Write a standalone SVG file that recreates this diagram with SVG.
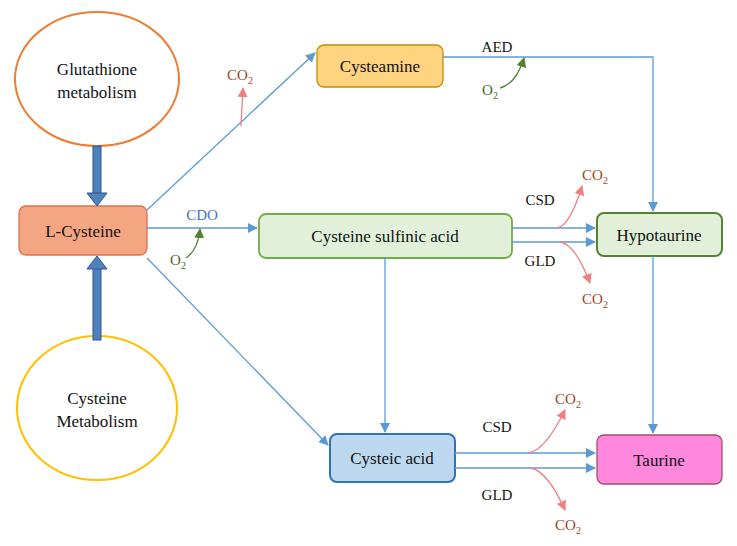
<svg xmlns="http://www.w3.org/2000/svg" width="737" height="546" viewBox="0 0 737 546" font-family="'Liberation Serif','Times New Roman','DejaVu Serif',serif">
<style>
text{font-family:'Liberation Serif','Times New Roman','DejaVu Serif',serif;font-size:17px;fill:#111;text-anchor:middle}
.c{stroke:#5B9BD5;stroke-width:1.3;fill:none;marker-end:url(#a)}
.r{stroke:#F08080;stroke-width:1.3;fill:none;marker-end:url(#ar)}
.g{stroke:#548235;stroke-width:1.3;fill:none;marker-end:url(#ag)}
.co{fill:#A0441E;font-size:15px}
.o2{fill:#3B6B22;font-size:15px}
.lb{font-size:15px}
</style>
<defs>
<marker id="a" markerWidth="10" markerHeight="10" refX="9" refY="5" orient="auto" markerUnits="userSpaceOnUse"><path d="M0,0L10,5L0,10z" fill="#5B9BD5"/></marker>
<marker id="ar" markerWidth="10" markerHeight="10" refX="9" refY="5" orient="auto" markerUnits="userSpaceOnUse"><path d="M0,0L10,5L0,10z" fill="#F08080"/></marker>
<marker id="ag" markerWidth="10" markerHeight="10" refX="9" refY="5" orient="auto" markerUnits="userSpaceOnUse"><path d="M0,0L10,5L0,10z" fill="#548235"/></marker>
</defs>
<rect width="737" height="546" fill="#fff"/>
<g id="glutathione"><ellipse cx="97" cy="79" rx="82" ry="67" fill="#fff" stroke="#ED7D31" stroke-width="2"/><text x="97" y="75">Glutathione</text><text x="97" y="98">metabolism</text></g>
<g id="cysmet"><ellipse cx="97" cy="408" rx="80" ry="72" fill="#fff" stroke="#FFC000" stroke-width="2"/><text x="97" y="404">Cysteine</text><text x="97" y="427">Metabolism</text></g>
<g id="lcys"><rect x="19" y="206" width="128" height="49" rx="7" fill="#F4A582" stroke="#E07050" stroke-width="1.3"/><text x="83" y="237">L-Cysteine</text></g>
<g id="cysteamine"><rect x="317" y="45" width="126" height="42" rx="7" fill="#FFD37F" stroke="#BF9000" stroke-width="1.3"/><text x="380" y="72">Cysteamine</text></g>
<g id="csa"><rect x="259" y="214" width="253" height="44" rx="7" fill="#E2F0D9" stroke="#70AD47" stroke-width="1.8"/><text x="385" y="242">Cysteine sulfinic acid</text></g>
<g id="hypotaurine"><rect x="597" y="213" width="125" height="43" rx="7" fill="#E2F0D9" stroke="#548235" stroke-width="2"/><text x="659" y="241">Hypotaurine</text></g>
<g id="cysteic"><rect x="330" y="434" width="125" height="48" rx="7" fill="#BDD7EE" stroke="#2E75B6" stroke-width="2"/><text x="392" y="464">Cysteic acid</text></g>
<g id="taurine"><rect x="597" y="435" width="125" height="49" rx="7" fill="#FF88DD" stroke="#A0506A" stroke-width="1.3"/><text x="659" y="466">Taurine</text></g>
<g id="connectors">
<rect x="93" y="146" width="8" height="48" fill="#4F81BD" stroke="#2F5597"/><path d="M87,193L107,193L97,206z" fill="#4F81BD" stroke="#2F5597"/>
<rect x="93" y="268" width="8" height="72" fill="#4F81BD" stroke="#2F5597"/><path d="M87,269L107,269L97,256z" fill="#4F81BD" stroke="#2F5597"/>
<path class="c" d="M147,210L315,53"/>
<path class="r" d="M241,126L243,88"/>
<path class="c" d="M147,228L257,228"/>
<path class="g" d="M186,258Q198,250 200,229"/>
<path class="c" d="M147,258L328,445"/>
<path class="c" d="M443,57L653,57L653,211"/>
<path class="g" d="M500,88Q516,84 524,58"/>
<path class="c" d="M512,228L595,228"/>
<path class="c" d="M512,242L595,242"/>
<path class="r" d="M557,228Q570,226 582,186"/>
<path class="r" d="M560,242Q575,244 590,283"/>
<path class="c" d="M385,258L385,432"/>
<path class="c" d="M653,256L653,433"/>
<path class="c" d="M455,453L595,453"/>
<path class="c" d="M455,468L595,468"/>
<path class="r" d="M528,453Q545,451 565,410"/>
<path class="r" d="M530,468Q547,470 565,510"/>
</g>
<g id="labels">
<text class="co" x="240" y="80">CO<tspan font-size="10" dy="4">2</tspan></text>
<text class="lb" x="202" y="220" style="fill:#4472C4">CDO</text>
<text class="o2" x="178" y="265">O<tspan font-size="10" dy="4">2</tspan></text>
<text class="lb" x="497" y="52">AED</text>
<text class="o2" x="490" y="95">O<tspan font-size="10" dy="4">2</tspan></text>
<text class="lb" x="540" y="205">CSD</text>
<text class="lb" x="540" y="266">GLD</text>
<text class="co" x="595" y="180">CO<tspan font-size="10" dy="4">2</tspan></text>
<text class="co" x="595" y="304">CO<tspan font-size="10" dy="4">2</tspan></text>
<text class="lb" x="497" y="432">CSD</text>
<text class="lb" x="497" y="500">GLD</text>
<text class="co" x="568" y="404">CO<tspan font-size="10" dy="4">2</tspan></text>
<text class="co" x="568" y="530">CO<tspan font-size="10" dy="4">2</tspan></text>
</g>
</svg>
